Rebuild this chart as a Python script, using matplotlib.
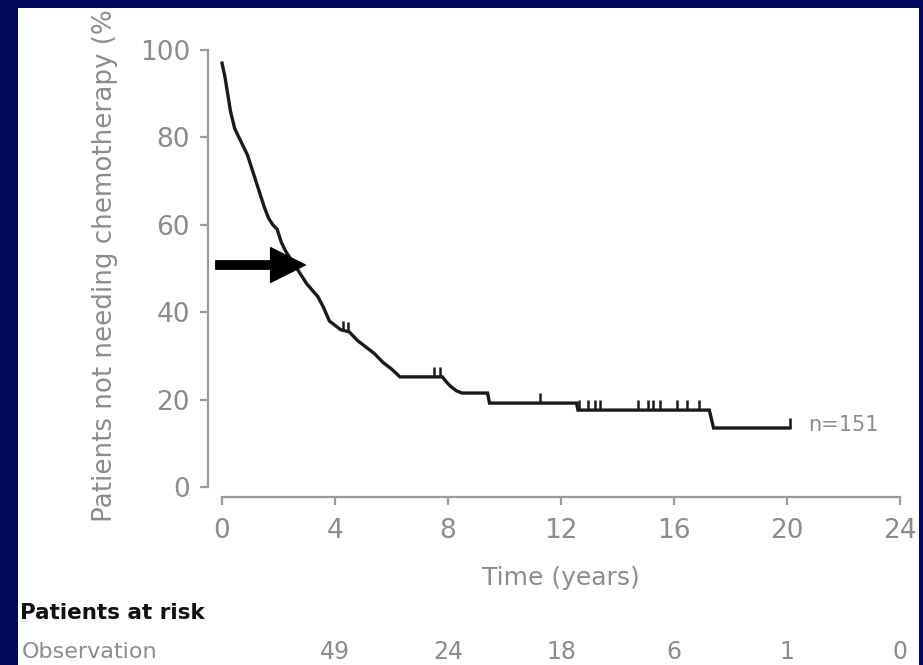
import numpy as np
import matplotlib
matplotlib.use("Agg")
import matplotlib.pyplot as plt
from matplotlib.patches import Rectangle

# Kaplan-Meier curve vertices (years, % not needing chemotherapy)
km_time = [0, 0.1, 0.2, 0.3, 0.45, 0.6, 0.75, 0.9, 1.05, 1.2, 1.35, 1.5, 1.65,
           1.8, 1.95, 2.1, 2.25, 2.4, 2.6, 2.8, 3.0, 3.2, 3.4, 3.6, 3.8, 4.0,
           4.2, 4.5, 4.8, 5.1, 5.4, 5.7, 6.0, 6.3, 7.8, 7.95, 8.1, 8.3, 8.5,
           9.4, 9.47, 12.55, 12.6, 17.25, 17.4, 20.1]
km_value = [97, 94, 90, 86, 82, 80, 78, 76, 73, 70, 67, 64, 61.5,
            60, 59, 56, 54, 52.5, 50.5, 48.5, 46.5, 45, 43.5, 41, 38, 37,
            36, 35.5, 33.5, 32, 30.5, 28.5, 27, 25.2, 25.2, 24, 23, 22, 21.5,
            21.5, 19.2, 19.2, 17.6, 17.6, 13.5, 13.5]

# censored observations
censor_time = [4.3, 4.45, 7.5, 7.7, 11.26, 12.62, 12.96, 13.2, 13.38, 14.73,
               15.08, 15.26, 15.5, 16.1, 16.46, 16.9, 20.1]

x_ticks = [0, 4, 8, 12, 16, 20, 24]
y_ticks = [0, 20, 40, 60, 80, 100]

risk_time = [4, 8, 12, 16, 20, 24]
risk_obs = [49, 24, 18, 6, 1, 0]

NAVY = "#000a58"
GREY = "#8c8c8c"
W, H = 923, 665

fig = plt.figure(figsize=(W / 100, H / 100), dpi=100)
fig.patch.set_facecolor(NAVY)
fig.patches.append(Rectangle((18 / W, 0), (919 - 18) / W, 1 - 8 / H,
                             transform=fig.transFigure, facecolor="white",
                             edgecolor="none", zorder=-5))

ax = fig.add_axes([222 / W, 1 - 487 / H, (900 - 222) / W, (487 - 50) / H])
ax.set_facecolor("none")

ax.plot(km_time, km_value, color="#1a1a1a", lw=2.4, clip_on=False,
        solid_joinstyle="miter")
cy = np.interp(censor_time, km_time, km_value)
ax.vlines(censor_time, cy, cy + 2.2, color="#1a1a1a", lw=1.8, clip_on=False)

ax.set_xlim(0, 24)
ax.set_ylim(0, 100)
ax.set_xticks(x_ticks)
ax.set_yticks(y_ticks)
for s in ["top", "right"]:
    ax.spines[s].set_visible(False)
ax.spines["left"].set_position(("outward", 10))
ax.spines["bottom"].set_position(("outward", 7))
for s in ["left", "bottom"]:
    ax.spines[s].set_color("#9a9a9a")
    ax.spines[s].set_linewidth(1.6)
ax.tick_params(axis="both", colors="#9a9a9a", labelcolor=GREY, labelsize=19,
               length=6, width=1.6)
ax.tick_params(axis="y", pad=7)
ax.tick_params(axis="x", pad=9)

ax.set_xlabel("Time (years)", fontsize=18, color=GREY, labelpad=16)
ax.text(105 / W, 1 - 522 / H, "Patients not needing chemotherapy (%)",
        transform=fig.transFigure, rotation=90, ha="center", va="bottom",
        fontsize=18.8, color=GREY)

ax.text(20.75, 14.2, "n=151", fontsize=15, color=GREY, ha="left", va="center")

ax.annotate("", xy=(2.95, 50.8), xytext=(-0.22, 50.8),
            arrowprops=dict(arrowstyle="simple,head_length=1,head_width=1,tail_width=0.24",
                            mutation_scale=25, color="black", shrinkA=0, shrinkB=0),
            annotation_clip=False)

# patients at risk table
fig.text(20 / W, 1 - 613 / H, "Patients at risk", fontsize=15.5,
         fontweight="bold", color="#111111", ha="left", va="center")
fig.text(22 / W, 1 - 652 / H, "Observation", fontsize=16, color=GREY,
         ha="left", va="center")
row_y = 1 - 652 / H
for t, n in zip(risk_time, risk_obs):
    xf = fig.transFigure.inverted().transform(ax.transData.transform((t, 0)))[0]
    fig.text(xf, row_y, str(n), fontsize=17, color=GREY, ha="center", va="center")

# navy frame around the white slide panel
for r in [(0, 1 - 8 / H, 1, 8 / H), (0, 0, 18 / W, 1), (919 / W, 0, 1 - 919 / W, 1)]:
    fig.patches.append(Rectangle(r[:2], r[2], r[3], transform=fig.transFigure,
                                 facecolor=NAVY, edgecolor="none", zorder=20))

fig.savefig("out.png", dpi=100, facecolor=NAVY)
